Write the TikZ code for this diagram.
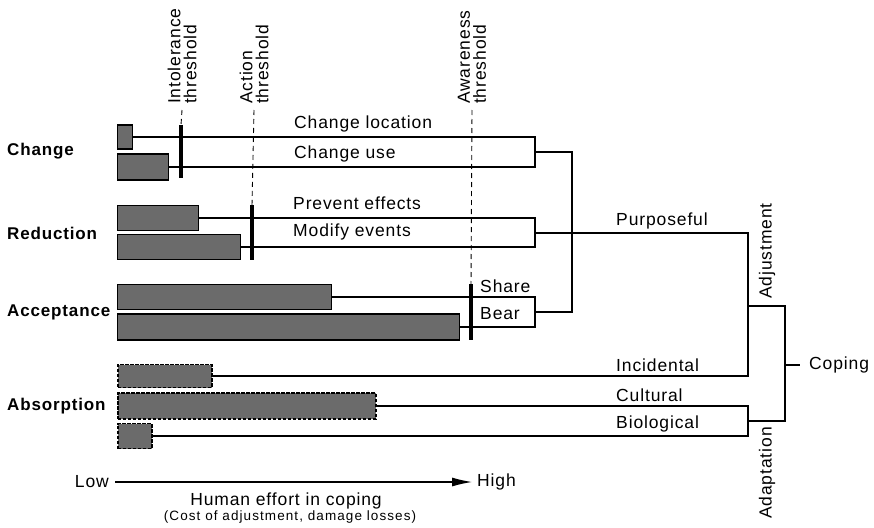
\documentclass[tikz,border=0pt]{standalone}
\usepackage{fontspec}
\setmainfont{Liberation Sans}[LetterSpace=5]
\usetikzlibrary{arrows.meta,calc}

\tikzset{
  lbl/.style={font=\fontsize{17.5}{16}\selectfont, inner sep=0pt},
  grp/.style={font=\fontsize{17}{16}\selectfont\bfseries, inner sep=0pt, anchor=west},
  opt/.style={lbl, anchor=west},
  bar/.style={draw, line width=1.4pt, fill=black!58, anchor=west, inner sep=0pt},
  softbar/.style={bar, dash pattern=on 3.5pt off 1.5pt, line width=1.7pt},
  conn/.style={line width=1.2pt},
  thr/.style={line width=3.6pt},
  thrdash/.style={line width=0.9pt, dash pattern=on 5pt off 4pt},
  thlabel/.style={lbl, rotate=90, anchor=west, align=left},
}

\begin{document}
\begin{tikzpicture}[x=1pt, y=-1pt]
\useasboundingbox (0,0) rectangle (874,527);

% group headings
\node[grp] (gChange) at (7,151) {Change};
\node[grp] (gReduce) at (7,233) {Reduction};
\node[grp] (gAccept) at (7,312) {Acceptance};
\node[grp] (gAbsorb) at (7,406) {Absorption};

% effort bars
\node[bar, minimum width=15pt, minimum height=24pt] (cl) at (117,137) {};
\node[bar, minimum width=51pt, minimum height=26pt] (cu) at (117,167) {};
\node[bar, minimum width=81pt, minimum height=25pt] (pe) at (117,218) {};
\node[bar, minimum width=123pt, minimum height=25pt] (me) at (117,247) {};
\node[bar, minimum width=214pt, minimum height=25pt] (sh) at (117,297) {};
\node[bar, minimum width=342pt, minimum height=26pt] (be) at (117,327) {};
\node[softbar, minimum width=94pt, minimum height=23pt] (ic) at (117,376) {};
\node[softbar, minimum width=258pt, minimum height=26pt] (cv) at (117,406) {};
\node[softbar, minimum width=34pt, minimum height=25pt] (bi) at (117,436) {};

% junction points
\coordinate (kChg) at (535,152);
\coordinate (kRed) at (535,233);
\coordinate (kAcc) at (535,312);
\coordinate (kAbs) at (748,421);
\coordinate (jPur) at (572,233);
\coordinate (jAdj) at (748,306);
\coordinate (jCop) at (785,365);

% adjustment options and their brackets
\draw[conn] (cl.east) -| (kChg) |- (cu.east);
\draw[conn] (pe.east) -| (kRed) |- (me.east);
\draw[conn] (sh.east) -| (kAcc) |- (be.east);
\draw[conn] (kChg) -| (jPur) |- (kAcc);
\draw[conn] (kRed) -| (jAdj) |- (ic.east);
\draw[conn] (cv.east) -| (kAbs) |- (bi.east);
\draw[conn] (jAdj) -| (jCop) |- (kAbs);

% option labels
\node[opt] (tCL) at (294,124) {Change location};
\node[opt] (tCU) at (294,154) {Change use};
\node[opt] (tPE) at (293,203) {Prevent effects};
\node[opt] (tME) at (293,232) {Modify events};
\node[opt] (tSH) at (480,286) {Share};
\node[opt] (tBE) at (480,314) {Bear};
\node[opt] (tPU) at (616,221) {Purposeful};
\node[opt] (tIC) at (616,365) {Incidental};
\node[opt] (tCV) at (616,395) {Cultural};
\node[opt] (tBI) at (616,424) {Biological};
\node[opt] (tCO) at (809,365) {Coping};
\node[lbl, rotate=90] (tADJ) at (767,251) {Adjustment};
\node[lbl, rotate=90] (tADA) at (767,473) {Adaptation};
\draw[conn] (jCop) -- ($(tCO.west)+(-9,0)$);

% thresholds
\node[thlabel] (hInt) at (182,104) {Intolerance\\threshold};
\node[thlabel] (hAct) at (254,104) {Action\\threshold};
\node[thlabel] (hAwa) at (472,104) {Awareness\\threshold};
\coordinate (iTop) at (181,125);
\coordinate (iBot) at (181,178);
\coordinate (aTop) at (252,205);
\coordinate (aBot) at (252,260);
\coordinate (wTop) at (471,284);
\coordinate (wBot) at (471,340);
\draw[thrdash] ($(hInt.west)+(0,6)$) -- (iTop);
\draw[thrdash] ($(hAct.west)+(0,6)$) -- (aTop);
\draw[thrdash] ($(hAwa.west)+(0,6)$) -- (wTop);
\draw[thr] (iTop) -- (iBot);
\draw[thr] (aTop) -- (aBot);
\draw[thr] (wTop) -- (wBot);

% effort axis
\node[lbl, anchor=east] (low) at (109,482) {Low};
\node[lbl, anchor=west] (high) at (477,482) {High};
\draw[conn, -{Latex[length=20pt, width=9pt]}, shorten <=6pt, shorten >=5pt] (low.east) -- (high.west);
\node[lbl] (axT) at (286,501) {Human effort in coping};
\node[lbl, font=\fontsize{13.5}{14}\selectfont\addfontfeature{LetterSpace=8}] (axS) at (290,517) {(Cost of adjustment, damage losses)};
\end{tikzpicture}
\end{document}
